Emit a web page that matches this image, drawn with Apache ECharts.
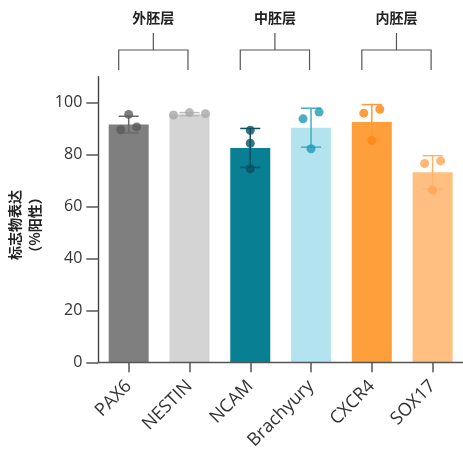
<!DOCTYPE html>
<html>
<head>
<meta charset="utf-8">
<script src="https://cdn.jsdelivr.net/npm/echarts@6/dist/echarts.min.js"></script>
<style>
  html, body { margin: 0; padding: 0; background: #fff; }
  #chart { width: 463px; height: 452px; }
</style>
</head>
<body>
<div id="chart"></div>
<script>
// Marker expression by germ layer (% positive cells)
const markers = ['PAX6', 'NESTIN', 'NCAM', 'Brachyury', 'CXCR4', 'SOX17'];
const meanValues = [91.6, 95.6, 82.6, 90.4, 92.6, 73.2];
const sdValues = [3.2, 0.6, 7.5, 7.5, 6.7, 6.4];

// Replicate measurements per marker
const pax6Reps = [89.6, 95.5, 90.7];
const nestinReps = [95.3, 96.2, 95.8];
const ncamReps = [89.4, 84.4, 74.6];
const brachyuryReps = [93.8, 96.4, 82.3];
const cxcr4Reps = [96.0, 97.5, 85.5];
const sox17Reps = [76.6, 77.6, 66.4];
const replicates = [pax6Reps, nestinReps, ncamReps, brachyuryReps, cxcr4Reps, sox17Reps];

// Germ-layer groups: label and the pair of marker indices they span
const layerNames = ['外胚层', '中胚层', '内胚层'];
const layerSpans = [[0, 1], [2, 3], [4, 5]];

const yTicks = [0, 20, 40, 60, 80, 100];

// Styling
const barColors = ['#7f7f7f', '#d4d4d4', '#087f93', '#b3e3ee', '#ff9f3c', '#ffbf80'];
const dotColors = ['#5b5b5b', '#a8a8a8', '#0a4f63', '#1d9bb6', '#ff8410', '#ffa552'];
const errColors = ['#6a6a6a', '#bcbcbc', '#0a4f63', '#45acc2', '#ff9a3a', '#ffb46c'];
// horizontal spread (px) of replicate dots within each bar
const dotSpread = [[-8, 0, 8], [-16, 0, 16], [0, 0, 0], [-8, 8, 0], [-8, 8, 0], [-8, 8, 0]];

const FONT = '"Open Sans", "Noto Sans CJK SC", sans-serif';
const CJK = '"Noto Sans CJK SC", "Open Sans", sans-serif';

const chart = echarts.init(document.getElementById('chart'), null, { renderer: 'canvas' });

const dotData = [];
replicates.forEach((reps, i) => {
  reps.forEach((v, k) => {
    dotData.push({
      value: [i, v],
      symbolOffset: [dotSpread[i][k], 0],
      itemStyle: { color: dotColors[i] }
    });
  });
});

const option = {
  animation: false,
  backgroundColor: '#fff',
  grid: { left: 98.3, right: -6.7, top: 76.8, bottom: 87 },
  xAxis: {
    type: 'category',
    data: markers,
    boundaryGap: true,
    axisLine: { show: true, lineStyle: { color: '#555', width: 1.4 } },
    axisTick: { show: true, alignWithLabel: true, length: 10, lineStyle: { color: '#555', width: 1.5 } },
    axisLabel: {
      rotate: 45, margin: 21, fontSize: 18, color: '#333', fontFamily: FONT,
      interval: 0
    },
    z: 5
  },
  yAxis: {
    type: 'value',
    min: 0, max: 110,
    splitLine: { show: false },
    axisLine: { show: true, lineStyle: { color: '#444', width: 1.4 } },
    axisTick: { show: true, length: 12, lineStyle: { color: '#555', width: 1.5 }, customValues: yTicks },
    axisLabel: { fontSize: 16, color: '#333', fontFamily: FONT, margin: 16, customValues: yTicks }
  },
  series: [
    {
      type: 'bar',
      barWidth: 40,
      data: meanValues.map((v, i) => ({ value: v, itemStyle: { color: barColors[i] } })),
      z: 2
    },
    {
      type: 'custom',
      z: 3,
      data: meanValues.map((v, i) => [i, v - sdValues[i], v + sdValues[i]]),
      renderItem: function (params, api) {
        const i = api.value(0);
        const lo = api.coord([i, api.value(1)]);
        const hi = api.coord([i, api.value(2)]);
        const cap = 10;
        const style = { stroke: errColors[i], lineWidth: 1.5 };
        return {
          type: 'group',
          children: [
            { type: 'line', shape: { x1: hi[0], y1: hi[1], x2: lo[0], y2: lo[1] }, style },
            { type: 'line', shape: { x1: hi[0] - cap, y1: hi[1], x2: hi[0] + cap, y2: hi[1] }, style },
            { type: 'line', shape: { x1: lo[0] - cap, y1: lo[1], x2: lo[0] + cap, y2: lo[1] }, style }
          ]
        };
      }
    },
    {
      type: 'scatter',
      symbolSize: 9,
      z: 4,
      data: dotData
    }
  ]
};

chart.setOption(option);

// Germ-layer brackets above the bars
const graphics = [];
layerSpans.forEach((span, g) => {
  const xa = chart.convertToPixel({ xAxisIndex: 0 }, span[0]) - 10;
  const xb = chart.convertToPixel({ xAxisIndex: 0 }, span[1]) - 1.5;
  const mid = (xa + xb) / 2;
  const ls = { stroke: '#555', lineWidth: 1.2 };
  graphics.push(
    { type: 'line', shape: { x1: mid, y1: 33, x2: mid, y2: 50 }, style: ls },
    { type: 'polyline', shape: { points: [[xa, 70], [xa, 50], [xb, 50], [xb, 70]] }, style: Object.assign({ fill: null }, ls) },
    { type: 'text', x: mid, y: 18, style: { text: layerNames[g], font: 'bold 14px ' + CJK, fill: '#222', textAlign: 'center', textVerticalAlign: 'middle' } }
  );
});
// Y-axis title
graphics.push({
  type: 'text', x: 25, y: 225, rotation: Math.PI / 2,
  style: {
    text: '标志物表达\n（%阳性）', font: 'bold 14px ' + CJK, fill: '#222',
    textAlign: 'center', textVerticalAlign: 'middle', lineHeight: 20
  }
});
chart.setOption({ graphic: graphics });
</script>
</body>
</html>
